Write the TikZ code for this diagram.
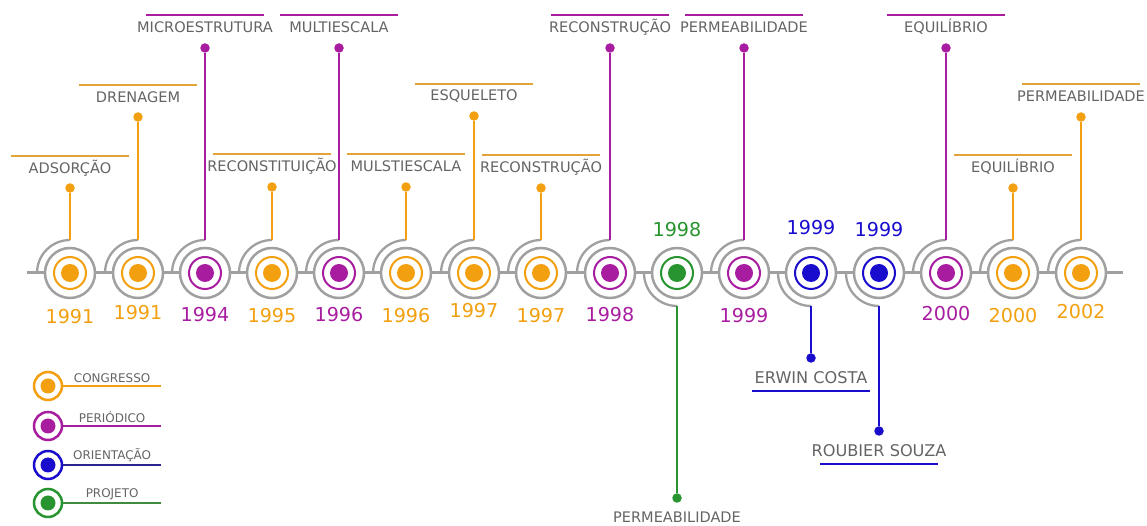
\documentclass[tikz,border=0pt]{standalone}
\usepackage{fontspec}
\setmainfont{DejaVu Sans}
\usetikzlibrary{backgrounds}
\definecolor{cong}{RGB}{243,160,16}
\definecolor{congbar}{RGB}{224,164,58}
\definecolor{per}{RGB}{168,29,160}
\definecolor{ori}{RGB}{25,12,205}
\definecolor{orinavy}{RGB}{40,36,140}
\definecolor{proj}{RGB}{40,148,48}
\definecolor{projbar}{RGB}{62,140,62}
\definecolor{ringgray}{RGB}{160,160,160}
\definecolor{txtgray}{RGB}{100,100,100}
\tikzset{
  axisline/.style={draw=ringgray,line width=3bp},
  halo/.style={draw=ringgray,line width=2.3bp},
  ring/.style={circle,draw=ringgray,fill=white,line width=2.5bp,minimum size=50bp,inner sep=0pt},
  cring/.style={circle,draw=#1,line width=2bp,minimum size=32bp,inner sep=0pt},
  core/.style={circle,fill=#1,minimum size=18bp,inner sep=0pt},
  tip/.style={circle,fill=#1,minimum size=9.5bp,inner sep=0pt},
  stem/.style={draw=#1,line width=2.8bp},
  topic/.style={text=txtgray,font=\fontsize{14.6}{17}\selectfont,minimum width=118bp,minimum height=24bp,inner sep=0pt},
  person/.style={text=txtgray,font=\fontsize{16.2}{19}\selectfont,minimum width=118bp,minimum height=26bp,inner sep=0pt},
  bar/.style={draw=#1,line width=2.5bp},
  yr/.style={text=#1,font=\fontsize{19.2}{22}\selectfont,inner sep=0pt},
  keyring/.style={circle,draw=#1,fill=white,line width=2.5bp,minimum size=28bp,inner sep=0pt},
  keyline/.style={draw=#1,line width=2bp},
  keytext/.style={text=txtgray,font=\fontsize{12}{14}\selectfont,inner sep=2bp},
}
\begin{document}
\begin{tikzpicture}[>=latex]
\useasboundingbox (0bp,0bp) rectangle (1147bp,526bp);
%% timeline
\coordinate (ax0) at (27bp,253bp);
\coordinate (ax1) at (1123bp,253bp);
%% events
\node (e1) at (70bp,253bp) [ring] {};
\node (e2) at (138bp,253bp) [ring] {};
\node (e3) at (205bp,253bp) [ring] {};
\node (e4) at (272bp,253bp) [ring] {};
\node (e5) at (339bp,253bp) [ring] {};
\node (e6) at (406bp,253bp) [ring] {};
\node (e7) at (474bp,253bp) [ring] {};
\node (e8) at (541bp,253bp) [ring] {};
\node (e9) at (610bp,253bp) [ring] {};
\node (e10) at (677bp,253bp) [ring] {};
\node (e11) at (744bp,253bp) [ring] {};
\node (e12) at (811bp,253bp) [ring] {};
\node (e13) at (879bp,253bp) [ring] {};
\node (e14) at (946bp,253bp) [ring] {};
\node (e15) at (1013bp,253bp) [ring] {};
\node (e16) at (1081bp,253bp) [ring] {};
%
\node (c1) at (e1) [cring=cong] {};  \node (d1) at (e1) [core=cong] {};
\node (c2) at (e2) [cring=cong] {};  \node (d2) at (e2) [core=cong] {};
\node (c3) at (e3) [cring=per] {};   \node (d3) at (e3) [core=per] {};
\node (c4) at (e4) [cring=cong] {};  \node (d4) at (e4) [core=cong] {};
\node (c5) at (e5) [cring=per] {};   \node (d5) at (e5) [core=per] {};
\node (c6) at (e6) [cring=cong] {};  \node (d6) at (e6) [core=cong] {};
\node (c7) at (e7) [cring=cong] {};  \node (d7) at (e7) [core=cong] {};
\node (c8) at (e8) [cring=cong] {};  \node (d8) at (e8) [core=cong] {};
\node (c9) at (e9) [cring=per] {};   \node (d9) at (e9) [core=per] {};
\node (c10) at (e10) [cring=proj] {}; \node (d10) at (e10) [core=proj] {};
\node (c11) at (e11) [cring=per] {};  \node (d11) at (e11) [core=per] {};
\node (c12) at (e12) [cring=ori] {};  \node (d12) at (e12) [core=ori] {};
\node (c13) at (e13) [cring=ori] {};  \node (d13) at (e13) [core=ori] {};
\node (c14) at (e14) [cring=per] {};  \node (d14) at (e14) [core=per] {};
\node (c15) at (e15) [cring=cong] {}; \node (d15) at (e15) [core=cong] {};
\node (c16) at (e16) [cring=cong] {}; \node (d16) at (e16) [core=cong] {};
%% stem tips
\node (t1) at (70bp,338bp) [tip=cong] {};
\node (t2) at (138bp,409bp) [tip=cong] {};
\node (t3) at (205bp,478bp) [tip=per] {};
\node (t4) at (272bp,339bp) [tip=cong] {};
\node (t5) at (339bp,478bp) [tip=per] {};
\node (t6) at (406bp,339bp) [tip=cong] {};
\node (t7) at (474bp,410bp) [tip=cong] {};
\node (t8) at (541bp,338bp) [tip=cong] {};
\node (t9) at (610bp,478bp) [tip=per] {};
\node (t10) at (677bp,28bp) [tip=proj] {};
\node (t11) at (744bp,478bp) [tip=per] {};
\node (t12) at (811bp,168bp) [tip=ori] {};
\node (t13) at (879bp,95bp) [tip=ori] {};
\node (t14) at (946bp,478bp) [tip=per] {};
\node (t15) at (1013bp,338bp) [tip=cong] {};
\node (t16) at (1081bp,409bp) [tip=cong] {};
%% topics
\node (l1) at (70bp,358bp) [topic] {ADSORÇÃO};
\node (l2) at (138bp,429bp) [topic] {DRENAGEM};
\node (l3) at (205bp,499bp) [topic] {MICROESTRUTURA};
\node (l4) at (272bp,360bp) [topic] {RECONSTITUIÇÃO};
\node (l5) at (339bp,499bp) [topic] {MULTIESCALA};
\node (l6) at (406bp,360bp) [topic] {MULSTIESCALA};
\node (l7) at (474bp,430bp) [topic] {ESQUELETO};
\node (l8) at (541bp,359bp) [topic] {RECONSTRUÇÃO};
\node (l9) at (610bp,499bp) [topic] {RECONSTRUÇÃO};
\node (l10) at (677bp,9bp) [topic] {PERMEABILIDADE};
\node (l11) at (744bp,499bp) [topic] {PERMEABILIDADE};
\node (l12) at (811bp,148bp) [person] {ERWIN COSTA};
\node (l13) at (879bp,75bp) [person] {ROUBIER SOUZA};
\node (l14) at (946bp,499bp) [topic] {EQUILÍBRIO};
\node (l15) at (1013bp,359bp) [topic] {EQUILÍBRIO};
\node (l16) at (1081bp,430bp) [topic] {PERMEABILIDADE};
%% years
\node (y1) at (70bp,209bp) [yr=cong] {1991};
\node (y2) at (138bp,213bp) [yr=cong] {1991};
\node (y3) at (205bp,211bp) [yr=per] {1994};
\node (y4) at (272bp,210bp) [yr=cong] {1995};
\node (y5) at (339bp,211bp) [yr=per] {1996};
\node (y6) at (406bp,210bp) [yr=cong] {1996};
\node (y7) at (474bp,215bp) [yr=cong] {1997};
\node (y8) at (541bp,210bp) [yr=cong] {1997};
\node (y9) at (610bp,211bp) [yr=per] {1998};
\node (y10) at (677bp,296bp) [yr=proj] {1998};
\node (y11) at (744bp,210bp) [yr=per] {1999};
\node (y12) at (811bp,298bp) [yr=ori] {1999};
\node (y13) at (879bp,296bp) [yr=ori] {1999};
\node (y14) at (946bp,212bp) [yr=per] {2000};
\node (y15) at (1013bp,210bp) [yr=cong] {2000};
\node (y16) at (1081bp,214bp) [yr=cong] {2002};
%% stems
\draw [stem=cong] ([yshift=33bp]e1.center) -- (t1);
\draw [stem=cong] ([yshift=33bp]e2.center) -- (t2);
\draw [stem=per] ([yshift=33bp]e3.center) -- (t3);
\draw [stem=cong] ([yshift=33bp]e4.center) -- (t4);
\draw [stem=per] ([yshift=33bp]e5.center) -- (t5);
\draw [stem=cong] ([yshift=33bp]e6.center) -- (t6);
\draw [stem=cong] ([yshift=33bp]e7.center) -- (t7);
\draw [stem=cong] ([yshift=33bp]e8.center) -- (t8);
\draw [stem=per] ([yshift=33bp]e9.center) -- (t9);
\draw [stem=proj] ([yshift=-33bp]e10.center) -- (t10);
\draw [stem=per] ([yshift=33bp]e11.center) -- (t11);
\draw [stem=ori] ([yshift=-33bp]e12.center) -- (t12);
\draw [stem=ori] ([yshift=-33bp]e13.center) -- (t13);
\draw [stem=per] ([yshift=33bp]e14.center) -- (t14);
\draw [stem=cong] ([yshift=33bp]e15.center) -- (t15);
\draw [stem=cong] ([yshift=33bp]e16.center) -- (t16);
%% bars
\draw [bar=congbar] ([xshift=-59bp]l1.north) -- ([xshift=59bp]l1.north);
\draw [bar=congbar] ([xshift=-59bp]l2.north) -- ([xshift=59bp]l2.north);
\draw [bar=per] ([xshift=-59bp]l3.north) -- ([xshift=59bp]l3.north);
\draw [bar=congbar] ([xshift=-59bp]l4.north) -- ([xshift=59bp]l4.north);
\draw [bar=per] ([xshift=-59bp]l5.north) -- ([xshift=59bp]l5.north);
\draw [bar=congbar] ([xshift=-59bp]l6.north) -- ([xshift=59bp]l6.north);
\draw [bar=congbar] ([xshift=-59bp]l7.north) -- ([xshift=59bp]l7.north);
\draw [bar=congbar] ([xshift=-59bp]l8.north) -- ([xshift=59bp]l8.north);
\draw [bar=per] ([xshift=-59bp]l9.north) -- ([xshift=59bp]l9.north);
\draw [bar=per] ([xshift=-59bp]l11.north) -- ([xshift=59bp]l11.north);
\draw [bar=ori] ([xshift=-59bp]l12.south) -- ([xshift=59bp]l12.south);
\draw [bar=ori] ([xshift=-59bp]l13.south) -- ([xshift=59bp]l13.south);
\draw [bar=per] ([xshift=-59bp]l14.north) -- ([xshift=59bp]l14.north);
\draw [bar=congbar] ([xshift=-59bp]l15.north) -- ([xshift=59bp]l15.north);
\draw [bar=congbar] ([xshift=-59bp]l16.north) -- ([xshift=59bp]l16.north);
%% legend
\node (g1) at (48bp,140bp) [keyring=cong] {}; \node (h1) at (g1) [core=cong,minimum size=15bp] {};
\node (g2) at (48bp,100bp) [keyring=per] {};  \node (h2) at (g2) [core=per,minimum size=15bp] {};
\node (g3) at (48bp,61bp) [keyring=ori] {};   \node (h3) at (g3) [core=ori,minimum size=15bp] {};
\node (g4) at (48bp,23bp) [keyring=proj] {};  \node (h4) at (g4) [core=proj,minimum size=15bp] {};
\coordinate (k1) at (161bp,140bp);
\coordinate (k2) at (161bp,100bp);
\coordinate (k3) at (161bp,61bp);
\coordinate (k4) at (161bp,23bp);
\draw [keyline=cong] (g1) -- node[keytext,above] {CONGRESSO} (k1);
\draw [keyline=per] (g2) -- node[keytext,above] {PERIÓDICO} (k2);
\draw [keyline=orinavy] (g3) -- node[keytext,above] {ORIENTAÇÃO} (k3);
\draw [keyline=projbar] (g4) -- node[keytext,above] {PROJETO} (k4);
%% axis and halos
\begin{scope}[on background layer]
\draw [axisline] (ax0) -- (ax1);
\draw [halo] ([xshift=-33bp]e1.center) arc[start angle=180,end angle=90,radius=33bp];
\draw [halo] ([xshift=-33bp]e2.center) arc[start angle=180,end angle=90,radius=33bp];
\draw [halo] ([xshift=-33bp]e3.center) arc[start angle=180,end angle=90,radius=33bp];
\draw [halo] ([xshift=-33bp]e4.center) arc[start angle=180,end angle=90,radius=33bp];
\draw [halo] ([xshift=-33bp]e5.center) arc[start angle=180,end angle=90,radius=33bp];
\draw [halo] ([xshift=-33bp]e6.center) arc[start angle=180,end angle=90,radius=33bp];
\draw [halo] ([xshift=-33bp]e7.center) arc[start angle=180,end angle=90,radius=33bp];
\draw [halo] ([xshift=-33bp]e8.center) arc[start angle=180,end angle=90,radius=33bp];
\draw [halo] ([xshift=-33bp]e9.center) arc[start angle=180,end angle=90,radius=33bp];
\draw [halo] ([xshift=-33bp]e10.center) arc[start angle=180,end angle=270,radius=33bp];
\draw [halo] ([xshift=-33bp]e11.center) arc[start angle=180,end angle=90,radius=33bp];
\draw [halo] ([xshift=-33bp]e12.center) arc[start angle=180,end angle=270,radius=33bp];
\draw [halo] ([xshift=-33bp]e13.center) arc[start angle=180,end angle=270,radius=33bp];
\draw [halo] ([xshift=-33bp]e14.center) arc[start angle=180,end angle=90,radius=33bp];
\draw [halo] ([xshift=-33bp]e15.center) arc[start angle=180,end angle=90,radius=33bp];
\draw [halo] ([xshift=-33bp]e16.center) arc[start angle=180,end angle=90,radius=33bp];
\end{scope}
%
\end{tikzpicture}
\end{document}
